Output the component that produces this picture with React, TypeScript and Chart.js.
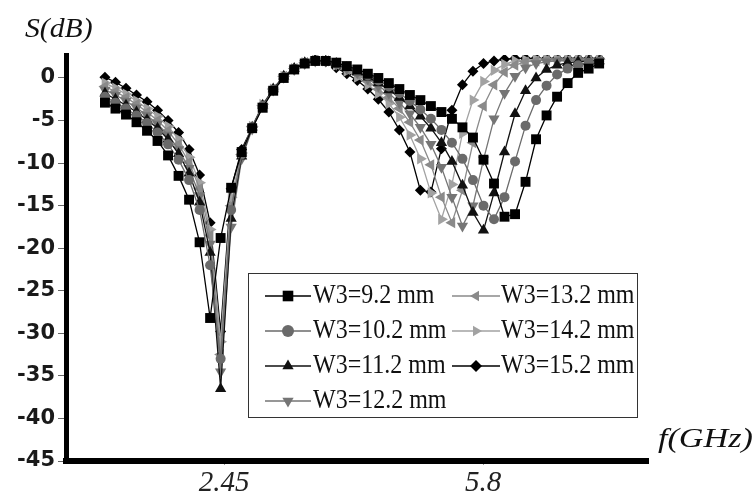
import React, { useEffect, useRef } from 'react';
import { Chart, registerables } from 'chart.js';

Chart.register(...registerables);

// Frequency grid (GHz)
const freqGHz = [
  0.910, 1.046, 1.182, 1.318, 1.454, 1.590, 1.726, 1.862, 1.998, 2.134,
  2.270, 2.406, 2.542, 2.678, 2.814, 2.950, 3.086, 3.222, 3.358, 3.494,
  3.630, 3.766, 3.902, 4.038, 4.174, 4.310, 4.446, 4.582, 4.718, 4.854,
  4.990, 5.126, 5.262, 5.398, 5.534, 5.670, 5.806, 5.942, 6.078, 6.214,
  6.350, 6.486, 6.622, 6.758, 6.894, 7.030, 7.166, 7.302,
];

const w92 = [
  -2.9, -3.6, -4.3, -5.2, -6.2, -7.4, -9.1, -11.5, -14.3, -19.3,
  -28.2, -18.8, -12.9, -8.7, -5.9, -3.5, -1.5, 0.0, 1.0, 1.7,
  2.0, 2.0, 1.8, 1.4, 1.0, 0.5, 0.0, -0.6, -1.3, -2.0,
  -2.6, -3.3, -4.0, -4.8, -5.8, -7.0, -9.6, -12.4, -16.3, -16.0,
  -12.2, -7.2, -4.4, -2.2, -0.6, 0.6, 1.1, 1.7,
];
const w102 = [
  -2.2, -2.9, -3.6, -4.4, -5.3, -6.4, -7.8, -9.6, -12.0, -15.5,
  -22.0, -33.0, -15.5, -9.0, -5.8, -3.3, -1.4, 0.1, 1.0, 1.7,
  2.0, 2.0, 1.7, 1.3, 0.8, 0.3, -0.3, -1.0, -1.8, -2.7,
  -3.7, -4.8, -6.1, -7.6, -9.5, -12.0, -15.0, -16.6, -14.0, -9.8,
  -5.6, -2.6, -0.9, 0.4, 1.1, 1.5, 1.8, 1.9,
];
const w112 = [
  -1.8, -2.5, -3.2, -4.0, -4.9, -5.9, -7.2, -8.9, -11.2, -14.6,
  -20.5, -36.5, -16.5, -9.2, -5.8, -3.2, -1.3, 0.2, 1.1, 1.8,
  2.1, 2.0, 1.7, 1.2, 0.7, 0.1, -0.6, -1.4, -2.3, -3.3,
  -4.5, -5.9, -7.6, -9.8, -12.6, -15.8, -17.9, -13.5, -8.7, -4.2,
  -1.5, 0.0, 1.0, 1.5, 1.8, 1.9, 2.0, 2.0,
];
const w122 = [
  -1.4, -2.0, -2.7, -3.5, -4.4, -5.4, -6.7, -8.4, -10.6, -13.8,
  -19.5, -34.5, -17.5, -9.5, -6.0, -3.3, -1.4, 0.1, 1.0, 1.7,
  2.0, 2.0, 1.6, 1.1, 0.6, -0.1, -0.9, -1.8, -2.9, -4.2,
  -5.8, -7.8, -10.5, -14.0, -17.4, -15.0, -9.6, -4.8, -1.8, 0.2,
  1.2, 1.7, 1.9, 2.0, 2.0, 2.0, 2.0, 2.0,
];
const w132 = [
  -1.0, -1.6, -2.3, -3.1, -4.0, -5.0, -6.2, -7.8, -9.9, -13.0,
  -18.5, -32.5, -15.0, -9.0, -5.7, -3.2, -1.3, 0.2, 1.1, 1.8,
  2.1, 2.0, 1.6, 1.0, 0.4, -0.4, -1.3, -2.3, -3.6, -5.2,
  -7.3, -10.2, -14.0, -17.0, -13.2, -7.6, -3.3, -0.8, 0.7, 1.5,
  1.9, 2.0, 2.1, 2.1, 2.1, 2.1, 2.1, 2.1,
];
const w142 = [
  -0.6, -1.2, -1.9, -2.7, -3.6, -4.5, -5.7, -7.2, -9.3, -12.3,
  -17.8, -31.0, -14.0, -8.8, -5.7, -3.1, -1.3, 0.2, 1.1, 1.8,
  2.1, 2.0, 1.5, 0.8, 0.1, -0.8, -1.8, -3.0, -4.6, -6.7,
  -9.5, -13.5, -16.6, -12.5, -6.5, -2.6, -0.4, 0.9, 1.6, 2.0,
  2.1, 2.2, 2.2, 2.2, 2.2, 2.2, 2.2, 2.2,
];
const w152 = [
  0.1, -0.5, -1.2, -2.0, -2.8, -3.8, -5.0, -6.4, -8.4, -11.4,
  -17.0, -29.8, -13.0, -8.4, -5.8, -3.3, -1.4, 0.2, 1.1, 1.8,
  2.1, 1.9, 1.2, 0.5, -0.3, -1.3, -2.5, -4.0, -6.1, -8.7,
  -13.2, -13.4, -8.3, -3.8, -0.8, 0.8, 1.7, 2.0, 2.2, 2.3,
  2.3, 2.3, 2.3, 2.3, 2.3, 2.3, 2.3, 2.3,
];

const seriesLabels = [
  'W3=9.2 mm', 'W3=10.2 mm', 'W3=11.2 mm', 'W3=12.2 mm',
  'W3=13.2 mm', 'W3=14.2 mm', 'W3=15.2 mm',
];
const seriesValues = [w92, w102, w112, w122, w132, w142, w152];

const yTickValues = [0, -5, -10, -15, -20, -25, -30, -35, -40, -45];
const xTickValues = [2.45, 5.8];
const xTickLabels = ['2.45', '5.8'];

type Sty = { color: string; shape: string; rot: number; r: number; lr: number };
const styles: Sty[] = [
  { color: '#000000', shape: 'rect', rot: 0, r: 7, lr: 7.5 },
  { color: '#6a6a6a', shape: 'circle', rot: 0, r: 5, lr: 6 },
  { color: '#111111', shape: 'triangle', rot: 0, r: 6.5, lr: 6.5 },
  { color: '#757575', shape: 'triangle', rot: 180, r: 6.5, lr: 6.5 },
  { color: '#8a8a8a', shape: 'triangle', rot: -90, r: 6.5, lr: 6 },
  { color: '#a2a2a2', shape: 'triangle', rot: 90, r: 6.5, lr: 6 },
  { color: '#000000', shape: 'rectRot', rot: 0, r: 5.5, lr: 6 },
];

function drawMarker(ctx: CanvasRenderingContext2D, s: Sty, x: number, y: number, r: number) {
  ctx.fillStyle = s.color;
  ctx.beginPath();
  if (s.shape === 'rect') {
    const h = r * Math.SQRT1_2;
    ctx.rect(x - h, y - h, 2 * h, 2 * h);
  } else if (s.shape === 'circle') {
    ctx.arc(x, y, r, 0, Math.PI * 2);
  } else if (s.shape === 'rectRot') {
    ctx.moveTo(x, y - r);
    ctx.lineTo(x + r, y);
    ctx.lineTo(x, y + r);
    ctx.lineTo(x - r, y);
    ctx.closePath();
  } else {
    let a = (s.rot * Math.PI) / 180;
    for (let k = 0; k < 3; k++) {
      const px = x + Math.sin(a) * r;
      const py = y - Math.cos(a) * r;
      if (k === 0) ctx.moveTo(px, py);
      else ctx.lineTo(px, py);
      a += (2 * Math.PI) / 3;
    }
    ctx.closePath();
  }
  ctx.fill();
}

const overlayPlugin = {
  id: 'overlay',
  afterDraw(chart: any) {
    const ctx: CanvasRenderingContext2D = chart.ctx;
    ctx.save();
    // axis titles
    ctx.fillStyle = '#111';
    ctx.textBaseline = 'alphabetic';
    ctx.textAlign = 'left';
    ctx.font = 'italic 28px "Liberation Serif", serif';
    ctx.save();
    ctx.translate(25, 37);
    ctx.scale(1.06, 1);
    ctx.fillText('S(dB)', 0, 0);
    ctx.restore();
    ctx.save();
    ctx.translate(658, 447);
    ctx.scale(1.22, 1);
    ctx.fillText('f(GHz)', 0, 0);
    ctx.restore();

    // legend box
    const bx = 248, by = 273, bw = 389, bh = 144;
    ctx.fillStyle = '#ffffff';
    ctx.fillRect(bx, by, bw, bh);
    ctx.strokeStyle = '#333';
    ctx.lineWidth = 1;
    ctx.strokeRect(bx + 0.5, by + 0.5, bw, bh);

    const cols = [
      { lx0: 265, lx1: 311, mx: 288, tx: 313 },
      { lx0: 452, lx1: 500, mx: 476, tx: 501 },
    ];
    const baselines = [303, 338, 373, 408];
    ctx.font = '24px "Liberation Serif", serif';
    seriesLabels.forEach((label, i) => {
      const col = i < 4 ? cols[0] : cols[1];
      const row = i < 4 ? i : i - 4;
      const base = baselines[row];
      const my = base - 7;
      const s = styles[i];
      ctx.strokeStyle = s.color;
      ctx.lineWidth = 1.3;
      ctx.beginPath();
      ctx.moveTo(col.lx0, my);
      ctx.lineTo(col.lx1, my);
      ctx.stroke();
      drawMarker(ctx, s, col.mx, my, s.lr);
      ctx.fillStyle = '#111';
      ctx.save();
      ctx.translate(col.tx, base);
      ctx.scale(1, 1.12);
      ctx.fillText(label, 0, 0);
      ctx.restore();
    });
    ctx.restore();
  },
};

export default function App() {
  const ref = useRef<HTMLCanvasElement | null>(null);
  useEffect(() => {
    if (!ref.current) return;
    const datasets = seriesValues.map((vals, i) => ({
      label: seriesLabels[i],
      data: freqGHz.map((f, k) => ({ x: f, y: vals[k] })),
      borderColor: styles[i].color,
      backgroundColor: styles[i].color,
      pointBackgroundColor: styles[i].color,
      pointBorderColor: styles[i].color,
      pointBorderWidth: 0,
      pointStyle: styles[i].shape,
      pointRotation: styles[i].rot,
      pointRadius: styles[i].r,
      borderWidth: 1.3,
      tension: 0,
      fill: false,
    }));
    const chart = new Chart(ref.current, {
      type: 'line',
      data: { datasets: datasets as any },
      options: {
        responsive: false,
        animation: false,
        events: [],
        layout: { padding: { top: 55, right: 108, left: 0, bottom: 0 } },
        plugins: { legend: { display: false }, tooltip: { enabled: false } },
        scales: {
          x: {
            type: 'linear',
            min: 0.406,
            max: 7.934,
            afterBuildTicks: (s: any) => {
              s.ticks = xTickValues.map((v) => ({ value: v }));
            },
            afterFit: (s: any) => {
              s.height = 34;
            },
            grid: { drawOnChartArea: false, drawTicks: true, tickLength: 4, color: '#999' },
            border: { display: true, width: 6, color: '#000' },
            ticks: {
              autoSkip: false,
              maxRotation: 0,
              padding: 1,
              color: '#222',
              font: { family: '"Liberation Serif", serif', style: 'italic', size: 29 },
              callback: (v: any) => {
                const idx = xTickValues.indexOf(Number(v));
                return idx >= 0 ? xTickLabels[idx] : '';
              },
            },
          },
          y: {
            type: 'linear',
            min: -45,
            max: 2.7,
            afterBuildTicks: (s: any) => {
              s.ticks = yTickValues.map((v) => ({ value: v }));
            },
            afterFit: (s: any) => {
              s.width = 66;
            },
            grid: { drawOnChartArea: false, drawTicks: true, tickLength: 8, color: '#666' },
            border: { display: true, width: 5, color: '#000' },
            ticks: {
              padding: 3,
              color: '#1a1a1a',
              font: { family: '"DejaVu Sans", sans-serif', weight: 'bold', size: 21 },
              callback: (v: any) => String(v),
            },
          },
        },
      },
      plugins: [overlayPlugin],
    });
    return () => chart.destroy();
  }, []);
  return (
    <div style={{ position: 'absolute', left: 0, top: 0, width: 756, height: 495, background: '#fff' }}>
      <canvas ref={ref} width={756} height={495} style={{ display: 'block', width: 756, height: 495 }} />
    </div>
  );
}
